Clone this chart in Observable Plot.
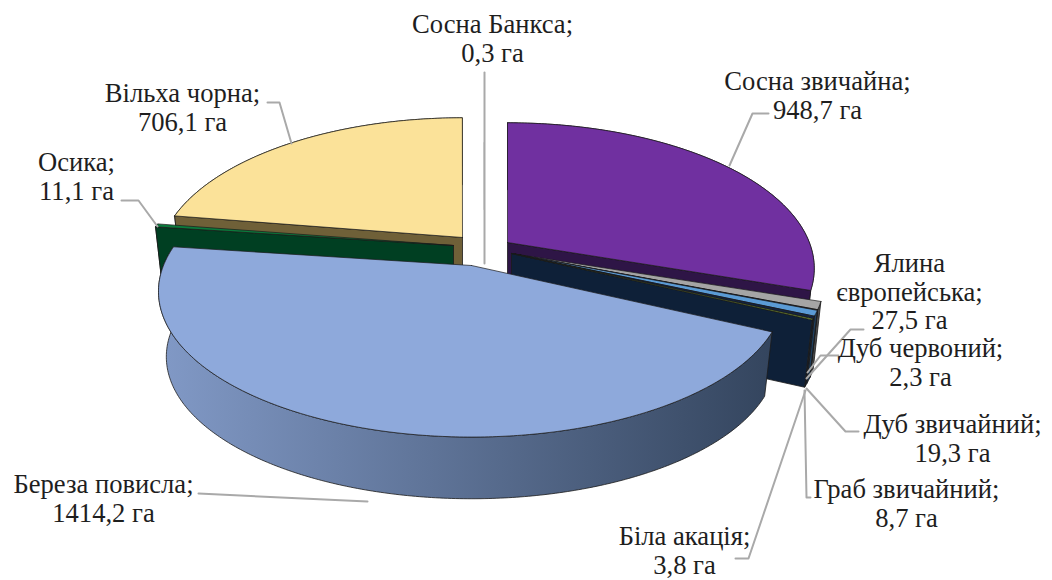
<!DOCTYPE html>
<html><head><meta charset="utf-8">
<script src="https://cdn.jsdelivr.net/npm/d3@7"></script>
<script src="https://cdn.jsdelivr.net/npm/@observablehq/plot@0.6"></script>
<style>html,body{margin:0;padding:0;background:#fff;overflow:hidden}</style>
</head><body><div id="chart"></div>
<script>
// Data, clockwise from 12 o'clock
const species = ["Сосна звичайна","Ялина європейська","Дуб червоний","Дуб звичайний","Граб звичайний","Біла акація","Береза повисла","Осика","Вільха чорна","Сосна Банкса"];
const hectares = [948.7,27.5,2.3,19.3,8.7,3.8,1414.2,11.1,706.1,0.3];
const valueLabels = ["948,7 га","27,5 га","2,3 га","19,3 га","8,7 га","3,8 га","1414,2 га","11,1 га","706,1 га","0,3 га"];
const topColors = ["#7030a0","#a5a5a5","#26262e","#5b9bd5","#14233f","#8db33a","#8ea9db","#0a7a3c","#fbe299","#a5a5a5"];
const wallColors = ["#2e1546","#4a4a4a","#101018","#1f3f5f","#0c1c36","#0e2038","url(#birchWall)","#003f22","#6f6038","#a5a5a5"];
// Layout: pie geometry and explosion of each slice (apex on the page)
const apexX = [507,511,511,511,511,511,471,453,462,484];
const apexY = [242,253,253,253,253,253,265,245,237,262];
const xStretch = [0.98,1,1,1,1,1,1,1,0.973,1];
const depths = [64,69,69,69,69,69,66,64,64,64];
const cutFaces = {0:"#2e1546",5:"#0e2038",7:"#003f22",8:"#6f6038"}; // slice -> colour of visible cut face
const cutAtEnd = {0:true,5:true,7:false,8:false};
const R = 308, tilt = 141, persp = 0.178, shrink = 0.975;

const total = d3.sum(hectares);
const cum = d3.cumsum(hectares);
const ang = i => [(i ? cum[i-1] : 0)/total*2*Math.PI, cum[i]/total*2*Math.PI];
function pt(i, t, bottom){
  const s = 1/(1+persp*Math.cos(t));
  const dx = xStretch[i]*R*Math.sin(t)*s, dy = -tilt*Math.cos(t)*s;
  return bottom ? {x: apexX[i]+shrink*dx, y: apexY[i]+shrink*dy+depths[i]} : {x: apexX[i]+dx, y: apexY[i]+dy};
}
const arc = (i, bottom) => { const [a,b]=ang(i), n=Math.max(2,Math.ceil((b-a)*90)); return d3.range(n+1).map(k=>pt(i,a+(b-a)*k/n,bottom)); };
const apex = (i,bottom)=> bottom ? {x:apexX[i],y:apexY[i]+depths[i]} : {x:apexX[i],y:apexY[i]};
const poly = (pts, fill, stroke="#1a1a1a", w=0.8) => Plot.line([...pts, pts[0]], {x:"x", y:"y", fill, stroke, strokeWidth:w, strokeLinejoin:"round"});

function slice(i){
  const marks = [];
  const top = arc(i,false), bot = arc(i,true);
  marks.push(poly([...top, ...bot.slice().reverse()], wallColors[i]));
  if (cutFaces[i]) {
    const e = cutAtEnd[i] ? ang(i)[1] : ang(i)[0];
    marks.push(poly([apex(i,false), pt(i,e,false), pt(i,e,true), apex(i,true)], cutFaces[i]));
  }
  marks.push(poly([apex(i,false), ...top], topColors[i], i===9?"none":"#1a1a1a", 0.7));
  return marks;
}
// Painter's order, back to front
const order = [9,8,0,1,2,3,4,5,7,6];

const labels = [
  {t:"Сосна Банкса;\n"+valueLabels[9], x:492, y:38},
  {t:"Сосна звичайна;\n"+valueLabels[0], x:817, y:95},
  {t:"Ялина\nєвропейська;\n"+valueLabels[1], x:909, y:291},
  {t:"Дуб червоний;\n"+valueLabels[2], x:920, y:362},
  {t:"Дуб звичайний;\n"+valueLabels[3], x:952, y:438},
  {t:"Граб звичайний;\n"+valueLabels[4], x:906, y:503},
  {t:"Біла акація;\n"+valueLabels[5], x:684, y:550},
  {t:"Береза повисла;\n"+valueLabels[6], x:103, y:498},
  {t:"Осика;\n"+valueLabels[7], x:76, y:176},
  {t:"Вільха чорна;\n"+valueLabels[8], x:182, y:107}
];
const leaders = [
  [[484,72],[484,263]],
  [[768,113],[752,113],[729,165]],
  [[863,329],[850,329],[806,378]],
  [[838,355],[820,355],[807,372]],
  [[858,431],[845,431],[806,388]],
  [[810,497],[806,497],[804,390]],
  [[735,558],[748,558],[805,390]],
  [[198,493],[367,501]],
  [[121,200],[138,200],[157,226]],
  [[267,102],[279,102],[291,143]]
].map(l=>l.map(([x,y])=>({x,y})));

const plot = Plot.plot({
  width:1052, height:580, margin:0,
  x:{domain:[0,1052], range:[0,1052], axis:null},
  y:{domain:[0,580], range:[0,580], axis:null},
  style:{background:"#fff"},
  marks:[
    () => {
      const ns="http://www.w3.org/2000/svg";
      const defs=document.createElementNS(ns,"defs");
      const g=document.createElementNS(ns,"linearGradient");
      g.setAttribute("id","birchWall"); g.setAttribute("gradientUnits","userSpaceOnUse");
      g.setAttribute("x1","160"); g.setAttribute("x2","770"); g.setAttribute("y1","0"); g.setAttribute("y2","0");
      [["0","#8199c6"],["1","#34455e"]].forEach(([o,c])=>{const s=document.createElementNS(ns,"stop");s.setAttribute("offset",o);s.setAttribute("stop-color",c);g.appendChild(s);});
      defs.appendChild(g); return defs;
    },
    ...order.flatMap(slice),
    ...leaders.map(l=>Plot.line(l,{x:"x",y:"y",stroke:"#a9a9a9",strokeWidth:2})),
    Plot.text(labels,{x:"x",y:"y",text:"t",fontFamily:"Liberation Serif",fontSize:26.6,lineHeight:1.07,fill:"#1e1e1e",textAnchor:"middle"})
  ]
});
document.getElementById("chart").appendChild(plot);
</script></body></html>
